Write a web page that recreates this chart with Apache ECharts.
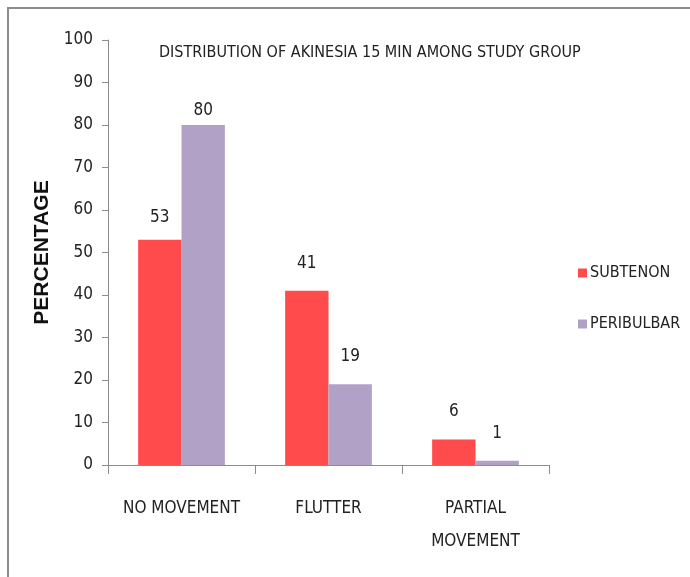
<!DOCTYPE html>
<html>
<head>
<meta charset="utf-8">
<script src="https://cdn.jsdelivr.net/npm/echarts@6/dist/echarts.min.js"></script>
<style>
  html, body { margin: 0; padding: 0; background: #fff; }
  #chart { width: 690px; height: 577px; }
</style>
</head>
<body>
<div id="chart"></div>
<script>
const categories = ['NO MOVEMENT', 'FLUTTER', 'PARTIAL\nMOVEMENT']
const subtenon = [53, 41, 6]
const peribulbar = [80, 19, 1]

const font = '"Liberation Sans Narrow", "DejaVu Sans Condensed", sans-serif'

// the original labels do not sit at one fixed height over the tall bars
const labelGap = (v) => v >= 80 ? 6 : v >= 50 ? 14 : 19
const withLabel = (arr) => arr.map(v => ({ value: v, label: { distance: labelGap(v) } }))

const chart = echarts.init(document.getElementById('chart'))

const labelStyle = { show: true, position: 'top', fontFamily: font, fontSize: 17, color: '#222' }

const option = {
  backgroundColor: '#fff',
  animation: false,
  graphic: [{
    type: 'rect',
    shape: { x: 8, y: 8, width: 720, height: 620 },
    style: { fill: 'none', stroke: '#8c8c8c', lineWidth: 2 }
  }],
  title: {
    text: 'DISTRIBUTION OF AKINESIA 15 MIN AMONG STUDY GROUP',
    left: 154,
    top: 40,
    textStyle: { fontFamily: font, fontSize: 16, fontWeight: 'normal', color: '#222' }
  },
  legend: {
    orient: 'vertical',
    left: 578,
    top: 265,
    padding: 0,
    itemWidth: 9,
    itemHeight: 9,
    itemGap: 35,
    icon: 'rect',
    textStyle: { fontFamily: font, fontSize: 16, color: '#222', padding: [0, 0, 0, -2] },
    data: ['SUBTENON', 'PERIBULBAR']
  },
  grid: { left: 108, right: 141, top: 40, bottom: 112 },
  xAxis: {
    type: 'category',
    data: categories,
    axisLine: { lineStyle: { color: '#8c8c8c' } },
    axisTick: { show: true, alignWithLabel: false, length: 9, lineStyle: { color: '#8c8c8c' } },
    axisLabel: {
      interval: 0,
      margin: 27,
      fontFamily: font,
      fontSize: 17,
      color: '#222',
      lineHeight: 33
    }
  },
  yAxis: {
    type: 'value',
    min: 0,
    max: 100,
    interval: 10,
    name: 'PERCENTAGE',
    nameLocation: 'middle',
    nameGap: 49,
    nameTextStyle: { fontFamily: '"Liberation Sans", Arial, sans-serif', fontSize: 21, fontWeight: 'bold', color: '#111' },
    axisLine: { show: true, lineStyle: { color: '#8c8c8c' } },
    axisTick: { show: true, length: 6, lineStyle: { color: '#8c8c8c' } },
    splitLine: { show: false },
    axisLabel: { margin: 15, fontFamily: font, fontSize: 17, color: '#222' }
  },
  series: [
    {
      name: 'SUBTENON',
      type: 'bar',
      data: withLabel(subtenon),
      barGap: '0%',
      barCategoryGap: '41%',
      itemStyle: { color: '#ff4b4b' },
      label: labelStyle
    },
    {
      name: 'PERIBULBAR',
      type: 'bar',
      data: withLabel(peribulbar),
      barGap: '0%',
      barCategoryGap: '41%',
      itemStyle: { color: '#b2a1c7' },
      label: labelStyle
    }
  ]
}

chart.setOption(option)
</script>
</body>
</html>
